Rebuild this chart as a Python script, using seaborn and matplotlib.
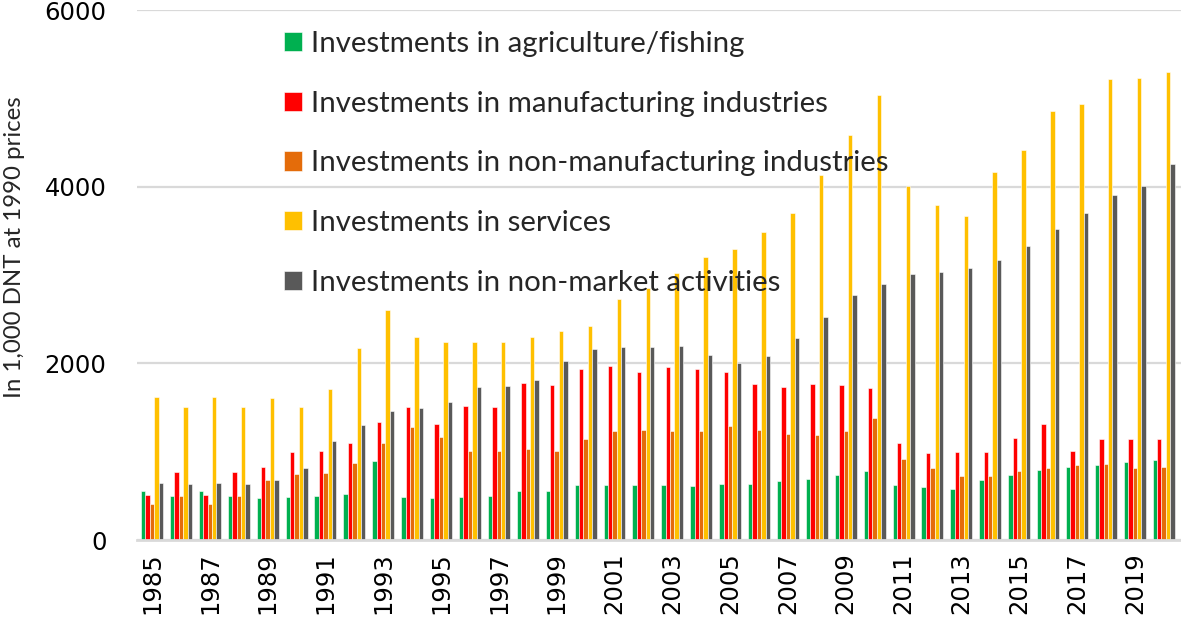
import matplotlib
matplotlib.use("Agg")
import matplotlib.pyplot as plt
import numpy as np
import pandas as pd
import seaborn as sns


OUT = "out.png"

YEARS = list(range(1985, 2021))

AGRICULTURE = [555, 498, 555, 498, 481, 489, 498, 521, 900, 491, 472, 484,
               495, 560, 560, 617, 621, 625, 625, 614, 636, 636, 670, 689,
               735, 786, 627, 599, 583, 683, 739, 798, 822, 854, 878, 910]
MANUFACTURING = [510, 770, 510, 770, 827, 996, 1008, 1098, 1340, 1501, 1314, 1513,
                 1505, 1775, 1760, 1935, 1968, 1905, 1955, 1939, 1905, 1769, 1727, 1761,
                 1750, 1717, 1102, 990, 998, 998, 1150, 1317, 1010, 1138, 1146, 1146]
NON_MANUFACTURING = [408, 498, 408, 498, 680, 747, 759, 872, 1094, 1284, 1166, 1006,
                     1006, 1029, 1006, 1143, 1238, 1246, 1239, 1239, 1292, 1246, 1205, 1189,
                     1231, 1377, 918, 818, 719, 719, 786, 810, 850, 866, 818, 830]
SERVICES = [1620, 1506, 1620, 1506, 1608, 1506, 1710, 2174, 2605, 2297, 2244, 2244,
            2244, 2301, 2370, 2423, 2732, 2856, 3019, 3205, 3292, 3485, 3705, 4133,
            4587, 5042, 4008, 3788, 3673, 4168, 4419, 4858, 4938, 5222, 5226, 5302]
NON_MARKET = [645, 634, 645, 634, 680, 815, 1121, 1302, 1455, 1497, 1558, 1730,
              1749, 1810, 2027, 2164, 2187, 2186, 2197, 2091, 2008, 2087, 2292, 2530,
              2773, 2902, 3006, 3038, 3074, 3174, 3333, 3517, 3701, 3904, 4004, 4256]

SERIES = [
    ("Investments in agriculture/fishing", AGRICULTURE),
    ("Investments in manufacturing industries", MANUFACTURING),
    ("Investments in non-manufacturing industries", NON_MANUFACTURING),
    ("Investments in services", SERVICES),
    ("Investments in non-market activities", NON_MARKET),
]
COLORS = ["#00B050", "#FF0000", "#E46C0A", "#FFC000", "#595959"]

Y_LABEL = "In 1,000 DNT at 1990 prices"
Y_TICKS = [0, 2000, 4000, 6000]
GRID_COLOR = "#d9d9d9"


def build_frame():
    rows = []
    for name, values in SERIES:
        for year, v in zip(YEARS, values):
            rows.append({"year": str(year), "series": name, "value": v})
    return pd.DataFrame(rows)


def main():
    df = build_frame()

    sns.set_theme(style="white")
    plt.rcParams["font.family"] = ["DejaVu Sans"]

    fig = plt.figure(figsize=(11.81, 6.23), dpi=100)
    ax = fig.add_axes([137 / 1181, 1 - 540 / 623, 1 - 137 / 1181, 530 / 623])

    hue_order = [name for name, _ in SERIES]
    sns.barplot(
        data=df, x="year", y="value", hue="series", hue_order=hue_order,
        palette=COLORS, saturation=1, width=0.76, ax=ax,
        edgecolor="white", linewidth=0.4, errorbar=None,
    )

    ax.set_ylim(0, 6000)
    ax.set_xlim(-0.52, len(YEARS) - 0.4)
    ax.set_yticks(Y_TICKS)
    ax.set_yticklabels([str(t) for t in Y_TICKS])
    ax.set_xticks(range(0, len(YEARS), 2))
    ax.set_xticklabels([str(y) for y in YEARS[::2]], rotation=90)
    ax.tick_params(axis="both", length=0, labelsize=17.5, colors="black")
    ax.tick_params(axis="y", pad=22)
    ax.tick_params(axis="x", pad=9)

    ax.yaxis.grid(True, color=GRID_COLOR, linewidth=1.6)
    ax.set_axisbelow(True)
    for side in ["top", "right", "left"]:
        ax.spines[side].set_visible(False)
    ax.spines["bottom"].set_color(GRID_COLOR)
    ax.spines["bottom"].set_linewidth(2)

    ax.set_xlabel("")
    ax.set_ylabel(Y_LABEL, fontsize=17.3, family=["Lato", "DejaVu Sans"])
    ax.yaxis.label.set_va("center")
    ax.yaxis.set_label_coords(-0.117, 0.553)

    handles, labels = ax.get_legend_handles_labels()
    ax.get_legend().remove()
    ax.legend(
        handles, labels, loc="upper left", bbox_to_anchor=(0.141, 0.961),
        frameon=False, borderpad=0, borderaxespad=0,
        handlelength=0.62, handleheight=0.62, handletextpad=0.28,
        labelspacing=1.15, prop={"family": ["Lato", "DejaVu Sans"], "size": 21.2},
    )

    fig.savefig(OUT, dpi=100)
    plt.close(fig)


if __name__ == "__main__":
    main()
